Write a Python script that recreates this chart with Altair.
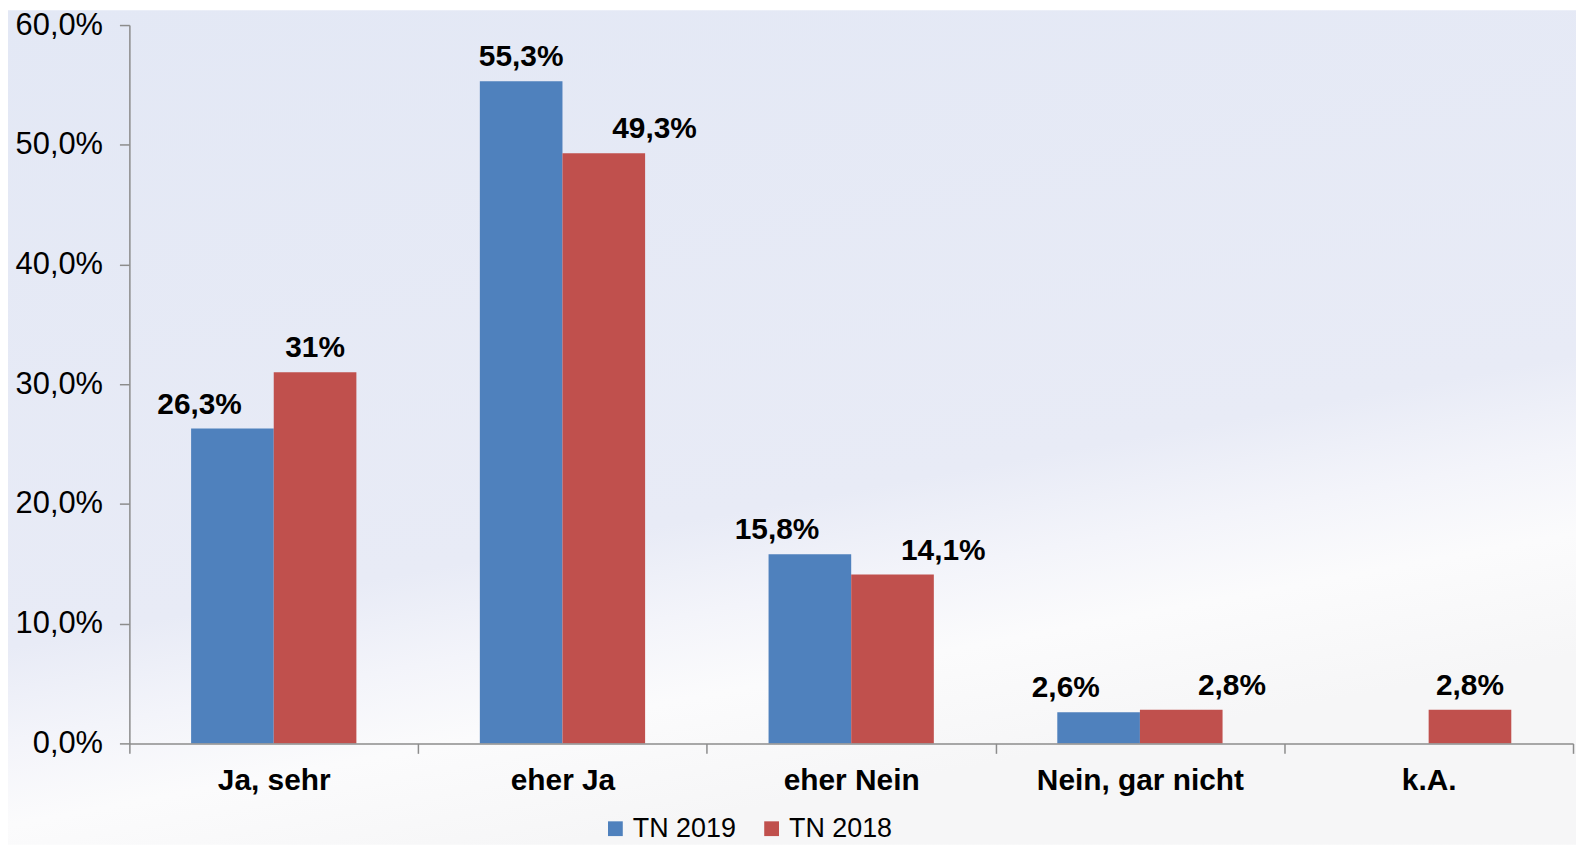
import altair as alt
import pandas as pd

categories = ["Ja, sehr", "eher Ja", "eher Nein", "Nein, gar nicht", "k.A."]
series_names = ["TN 2019", "TN 2018"]
tn2019 = [26.3, 55.3, 15.8, 2.6, None]
tn2018 = [31.0, 49.3, 14.1, 2.8, 2.8]
labels2019 = ["26,3%", "55,3%", "15,8%", "2,6%", None]
labels2018 = ["31%", "49,3%", "14,1%", "2,8%", "2,8%"]
colors = ["#4F81BD", "#C0504D"]
y_ticks = [0, 10, 20, 30, 40, 50, 60]

rows = []
for i, c in enumerate(categories):
    for s, vals, labs in ((series_names[0], tn2019, labels2019), (series_names[1], tn2018, labels2018)):
        if vals[i] is None:
            continue
        rows.append(dict(category=c, series=s, value=vals[i], label=labs[i]))
df = pd.DataFrame(rows)

W, H = 1451, 722
PAD_L, PAD_T, PAD_R, PAD_B = 122, 15, 3, 102
FONT = "Liberation Sans"

base = alt.Chart(df).encode(
    x=alt.X("category:N", sort=categories,
            scale=alt.Scale(paddingInner=0, paddingOuter=0),
            axis=alt.Axis(title=None, labelAngle=0, tickBand="extent", tickSize=10,
                          labelPadding=12, labelFontSize=30, labelFontWeight="bold",
                          labelLimit=0,
                          labelColor="#000000", domainColor="#8c8c8c", tickColor="#8c8c8c",
                          domainWidth=1.5, tickWidth=1.5, zindex=1)),
    xOffset=alt.XOffset("series:N", sort=series_names,
                        scale=alt.Scale(domain=series_names, paddingInner=0, paddingOuter=0.747)),
    y=alt.Y("value:Q", scale=alt.Scale(domain=[0, 60], nice=False),
            axis=alt.Axis(title=None, values=y_ticks, grid=False, tickSize=10, labelPadding=17,
                          labelFontSize=31, labelColor="#000000",
                          labelExpr="replace(format(datum.value, '.1f'), '.', ',') + '%'",
                          domainColor="#8c8c8c", tickColor="#8c8c8c",
                          domainWidth=1.5, tickWidth=1.5, zindex=1)),
)

bg = alt.Chart(alt.Data(values=[{"bg": 1}])).mark_rect(
    fill=alt.LinearGradient(
        gradient="linear", x1=0, x2=0.35, y1=0, y2=1,
        stops=[alt.GradientStop(color="#E3E8F5", offset=0),
               alt.GradientStop(color="#E8EBF6", offset=0.68),
               alt.GradientStop(color="#F3F4FA", offset=0.78),
               alt.GradientStop(color="#FBFBFC", offset=0.87),
               alt.GradientStop(color="#F6F6F7", offset=1)]),
).encode(x=alt.value(-PAD_L), x2=alt.value(W + PAD_R), y=alt.value(-PAD_T), y2=alt.value(H + PAD_B))

bars = base.mark_bar().encode(
    color=alt.Color("series:N", sort=series_names,
                    scale=alt.Scale(domain=series_names, range=colors),
                    legend=alt.Legend(title=None, orient="none", legendX=475, legendY=794,
                                      direction="horizontal", symbolType="square",
                                      symbolSize=220, symbolStrokeWidth=0, labelFontSize=27,
                                      labelColor="#000000", columnPadding=22, labelOffset=4,
                                      zindex=1))
)

lab = base.transform_joinaggregate(
    maxv="max(value)", minv="min(value)", n="count()", groupby=["category"]
).transform_calculate(
    shift="datum.n == 2 && (datum.value < datum.maxv || datum.maxv - datum.minv < 2.5) ? 1 : 0"
)
text_kw = dict(font=FONT, fontSize=30, fontWeight="bold", color="#000000",
               baseline="alphabetic", dy=-15)
t0 = lab.transform_filter("datum.shift == 0").mark_text(**text_kw).encode(text="label:N")
t1 = lab.transform_filter("datum.shift == 1 && datum.series == 'TN 2019'").mark_text(
    dx=-33, **text_kw).encode(text="label:N")
t2 = lab.transform_filter("datum.shift == 1 && datum.series == 'TN 2018'").mark_text(
    dx=51, **text_kw).encode(text="label:N")

chart = alt.layer(bg, bars, t0, t1, t2).properties(
    width=W, height=H,
    autosize=alt.AutoSizeParams(type="none"),
    padding={"left": PAD_L, "top": PAD_T, "right": PAD_R, "bottom": PAD_B},
    background="#FFFFFF",
).configure_view(stroke=None).configure(font=FONT)

chart.save("out.html", embed_options={"renderer": "svg", "actions": False})
